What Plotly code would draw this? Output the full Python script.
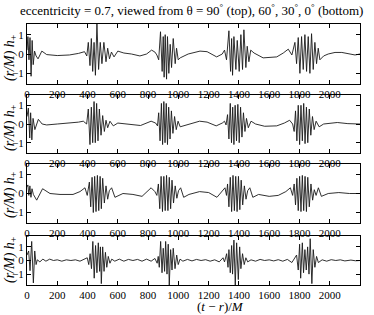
import plotly.graph_objects as go

# ---------------- data ----------------
title_text = ("eccentricity = 0.7, viewed from θ = 90<sup>°</sup> (top), "
              "60<sup>°</sup>, 30<sup>°</sup>, 0<sup>°</sup> (bottom)")
x_label = "(<i>t</i> − <i>r</i>)/<i>M</i>"
y_label = "<i>(r/M) h</i><sub>+</sub>"
x_tick_vals = [0, 200, 400, 600, 800, 1000, 1200, 1400, 1600, 1800, 2000]
y_tick_vals = [-1, 0, 1]
y_tick_text = ["−1", "0", "1"]

# theta = 90 deg (top)
t_90 = [0, 6, 13, 20, 27, 34, 41, 50, 60, 73, 98, 130, 200, 280, 340, 380,
        395, 405, 416, 425, 434, 443, 452, 462, 473, 484, 495, 508, 522, 533, 545,
        558, 575, 600, 640, 690, 746, 790, 823, 845, 858,
        870, 882, 893, 900, 906, 913, 922, 928, 937, 946, 955, 966, 979, 988, 999,
        1012, 1065, 1143, 1190, 1253, 1290, 1305, 1318,
        1334, 1345, 1352, 1358, 1367, 1380, 1389, 1402, 1413, 1424, 1433, 1446, 1455, 1466,
        1478, 1500, 1560, 1650, 1693, 1726, 1750,
        1770, 1781, 1792, 1803, 1814, 1825, 1836, 1847, 1858, 1869, 1880, 1891, 1902, 1913, 1924, 1935,
        1960, 1990, 2035, 2080, 2123, 2167, 2200]
h_90 = [0.2, 0.9, -0.3, 0.85, -1.15, 0.7, -0.55, 0.15, -0.1, -0.25, 0.15, -0.03, -0.08, -0.05, 0.03, 0.12,
        -0.1, 0.6, -0.6, 0.8, -0.9, 0.6, -1.1, 1.55, -0.8, 0.6, -0.5, 0.6, -0.4, 0.3, -0.25,
        0.1, -0.15, 0.15, 0.05, 0.0, -0.1, 0.0, 0.2, 0.1, -0.05,
        -0.3, 1.15, -0.9, 0.9, -1.2, 1.0, -1.3, 0.9, -1.0, 0.5, -0.7, 0.8, -0.5, 0.3, -0.3,
        -0.2, 0.0, 0.15, 0.12, -0.15, 0.0, 0.2, -0.3,
        1.2, -0.9, 0.8, -1.1, 0.9, -0.8, 0.7, -0.9, 1.0, -0.8, 1.25, -0.7, 0.4, -0.4,
        0.2, 0.05, -0.2, -0.15, 0.05, 0.25, -0.05,
        0.6, -0.5, 0.85, -1.0, 0.9, -0.8, 1.0, -0.9, 0.9, -1.0, 1.05, -0.8, 0.6, -0.5, 0.3, -0.3,
        -0.1, 0.0, 0.08, 0.08, 0.0, -0.05, 0.0]

# theta = 60 deg
t_60 = [0, 9, 18, 24, 32, 40, 52, 75, 100, 130, 200, 280, 340, 372, 390,
        394, 405, 416, 425, 434, 443, 451, 460, 469, 478, 489, 500, 511, 522, 533,
        548, 570, 600, 680, 750, 820, 850, 862,
        870, 879, 888, 896, 904, 912, 920, 928, 936, 945, 954, 964, 975, 986, 998,
        1012, 1050, 1140, 1190, 1250, 1290, 1305, 1315,
        1325, 1334, 1343, 1351, 1359, 1367, 1375, 1384, 1393, 1402, 1411, 1420, 1430, 1440, 1450, 1462,
        1480, 1510, 1570, 1650, 1700, 1735, 1755,
        1765, 1774, 1783, 1792, 1801, 1810, 1819, 1828, 1837, 1846, 1855, 1865, 1875, 1886, 1897, 1910,
        1930, 1960, 2050, 2120, 2200]
h_60 = [0.4, 0.85, -0.75, 0.6, -0.85, 0.3, -0.3, 0.25, 0.0, -0.05, 0.0, 0.05, 0.1, 0.15, 0.05,
        0.0, 0.8, -1.1, 0.9, -1.0, 1.2, -1.0, 1.1, -0.9, 0.8, -0.6, 0.45, -0.4, 0.2, -0.2,
        0.15, -0.1, 0.05, 0.0, -0.08, 0.15, 0.05, -0.1,
        0.6, -0.9, 1.1, -1.1, 1.2, -1.0, 1.1, -1.1, 0.9, -0.8, 0.7, -0.5, 0.4, -0.3, 0.15,
        -0.15, -0.05, 0.15, 0.1, -0.1, 0.05, 0.15, -0.05,
        0.5, -0.8, 1.1, -1.0, 0.9, -1.1, 1.0, -0.9, 1.05, -1.0, 0.9, -0.7, 0.6, -0.4, 0.3, -0.2,
        0.15, 0.0, -0.12, -0.1, 0.05, 0.2, 0.0,
        -0.4, 0.7, -0.9, 1.0, -1.1, 1.0, -0.9, 1.1, -1.05, 0.9, -1.0, 0.8, -0.6, 0.4, -0.3, 0.15,
        -0.15, 0.0, 0.08, 0.02, 0.0]

# theta = 30 deg
t_30 = [0, 6, 12, 19, 26, 33, 42, 64, 103, 152, 218, 304, 350, 383, 398,
        412, 421, 430, 438, 447, 456, 465, 474, 483, 491, 500, 511, 522, 533, 544,
        559, 581, 634, 700, 760, 820, 845, 858,
        868, 877, 886, 895, 904, 913, 922, 931, 940, 949, 958, 968, 979, 990, 1001,
        1015, 1035, 1070, 1140, 1200, 1255, 1290, 1308, 1318,
        1325, 1334, 1343, 1352, 1361, 1370, 1379, 1388, 1397, 1406, 1415, 1425, 1436, 1447, 1458,
        1472, 1492, 1530, 1600, 1660, 1710, 1740, 1755,
        1765, 1774, 1783, 1792, 1801, 1810, 1819, 1828, 1837, 1846, 1855, 1865, 1876, 1887, 1898, 1910,
        1925, 1945, 1990, 2060, 2130, 2200]
h_30 = [0.35, 0.45, -0.1, 0.4, -0.2, 0.25, -0.05, -0.35, 0.25, 0.0, -0.05, -0.05, 0.1, 0.3, -0.1,
        0.6, -0.7, 0.85, -1.0, 0.9, -0.95, 0.95, -0.9, 0.9, -0.8, 0.8, -0.5, 0.4, -0.3, 0.15,
        0.3, -0.2, 0.0, -0.05, -0.15, 0.3, 0.1, -0.1,
        0.5, -0.8, 0.9, -0.95, 0.9, -0.9, 0.95, -0.9, 0.85, -0.8, 0.7, -0.5, 0.4, -0.25, 0.15,
        0.3, -0.2, -0.05, 0.1, 0.05, -0.2, 0.1, 0.3, -0.1,
        0.5, -0.7, 0.85, -0.95, 0.95, -0.9, 0.9, -0.95, 0.9, -0.85, 0.7, -0.6, 0.4, -0.3, 0.15,
        0.3, -0.2, -0.05, -0.15, -0.1, 0.1, 0.3, -0.1,
        0.5, -0.6, 0.8, -0.9, 0.9, -0.95, 0.95, -0.9, 0.9, -0.95, 0.85, -0.7, 0.5, -0.35, 0.2, -0.1,
        0.3, -0.15, 0.0, 0.05, 0.0, 0.0]

# theta = 0 deg (bottom)
t_0 = [0, 11, 20, 31, 42, 51, 60, 68, 85, 105, 125, 150, 175, 200, 230, 260, 290, 320, 350, 375,
       398, 408, 417, 426, 435, 444, 453, 462, 471, 480, 485, 491, 500, 509, 518, 527, 537, 548, 560,
       580, 610, 640, 670, 700, 730, 760, 790, 820, 845, 860,
       867, 874, 883, 892, 900, 909, 916, 925, 933, 940, 949, 958, 966, 978, 989, 999, 1011,
       1030, 1060, 1090, 1120, 1150, 1180, 1210, 1240, 1270, 1295, 1305,
       1319, 1328, 1334, 1343, 1352, 1358, 1367, 1376, 1385, 1396, 1405, 1413, 1424, 1435, 1446, 1458,
       1480, 1510, 1540, 1570, 1600, 1630, 1660, 1690, 1720, 1750, 1765,
       1781, 1792, 1801, 1808, 1819, 1827, 1836, 1845, 1854, 1863, 1871, 1882, 1891, 1902, 1913,
       1925, 1950, 1980, 2010, 2040, 2070, 2100, 2140, 2170, 2200]
h_0 = [0.4, 0.7, -0.75, 1.4, -1.65, 0.7, -0.3, 0.05, -0.1, 0.1, -0.05, 0.1, 0.0, 0.05, -0.05, 0.05, 0.0, 0.05, -0.05, 0.1,
       0.2, -0.3, 0.5, -0.6, 1.4, -1.3, 1.1, -0.9, 1.3, -0.8, 1.0, -1.7, 1.0, -0.8, 0.6, -0.5, 0.3, -0.2, 0.1,
       -0.05, 0.1, -0.05, 0.08, 0.0, 0.08, -0.05, 0.1, -0.05, 0.15, -0.2,
       0.3, -0.5, 1.4, -0.9, 0.9, -0.8, 1.4, -1.0, 1.2, -1.8, 0.8, -0.7, 0.9, -0.6, 0.4, -0.3, 0.1,
       -0.05, 0.08, -0.03, 0.08, 0.0, 0.06, -0.05, 0.05, -0.1, 0.2, -0.1,
       0.5, -0.5, 0.8, -0.9, 1.1, -1.0, 1.5, -1.8, 1.3, -1.4, 1.0, -0.6, 0.5, -0.3, 0.2, -0.1,
       0.05, -0.05, 0.08, 0.0, 0.05, -0.03, 0.06, -0.05, 0.08, -0.15, 0.1,
       0.4, -0.7, 1.2, -1.3, 1.3, -0.9, 0.8, -0.7, 1.0, -1.0, 1.6, -1.7, 0.8, -0.5, 0.3,
       -0.15, 0.05, -0.05, 0.06, 0.0, 0.05, -0.03, 0.03, -0.02, 0.0]

# ---------------- figure ----------------
W, H = 374, 315
ML, MR, MT, MB = 27, 14, 24, 30
PH = H - MT - MB  # plot area height in px


def py(p):
    """pixel row -> paper y"""
    return (H - MB - p) / PH


def px(p):
    """pixel column -> paper x"""
    return (p - ML) / (W - ML - MR)


bands = [(24, 84), (95, 153), (164, 223), (236, 285)]
yranges = [[-1.55, 1.55], [-1.55, 1.55], [-1.55, 1.55], [-1.8, 1.8]]
label_rows = [58, 128, 195, 260]
series = [(t_90, h_90), (t_60, h_60), (t_30, h_30), (t_0, h_0)]

FONT = "Liberation Serif"
fig = go.Figure()
layout = dict(
    width=W, height=H,
    margin=dict(l=ML, r=MR, t=MT, b=MB, pad=0),
    paper_bgcolor="white", plot_bgcolor="white",
    showlegend=False,
    font=dict(family=FONT, color="black", size=11),
)
annotations = []
for i, ((tt, hh), (a, b), yr, lr) in enumerate(zip(series, bands, yranges, label_rows), start=1):
    xa = "x" if i == 1 else f"x{i}"
    ya = "y" if i == 1 else f"y{i}"
    fig.add_trace(go.Scatter(x=tt, y=hh, mode="lines", xaxis=xa, yaxis=ya,
                             line=dict(color="#1a1a1a", width=0.9),
                             hoverinfo="skip"))
    common = dict(showline=True, linecolor="black", linewidth=1, mirror="allticks",
                  ticks="inside", ticklen=4, tickwidth=1, tickcolor="black",
                  showgrid=False, zeroline=False,
                  tickfont=dict(family=FONT, size=11, color="black"))
    layout["xaxis" if i == 1 else f"xaxis{i}"] = dict(
        domain=[0, 1], range=[0, 2200], anchor=ya, tickvals=x_tick_vals, **common)
    layout["yaxis" if i == 1 else f"yaxis{i}"] = dict(
        domain=[py(b), py(a)], range=yr, anchor=xa,
        tickvals=y_tick_vals, ticktext=y_tick_text, **common)
    annotations.append(dict(text=y_label, xref="paper", yref="paper",
                            x=px(10), y=py(lr), xanchor="center", yanchor="middle",
                            textangle=-90, showarrow=False,
                            font=dict(family=FONT, size=14, color="black")))

annotations.append(dict(text=title_text, xref="paper", yref="paper",
                        x=px(191), y=py(10), xanchor="center", yanchor="middle",
                        showarrow=False, font=dict(family=FONT, size=13, color="black")))
annotations.append(dict(text=x_label, xref="paper", yref="paper",
                        x=px(220), y=py(306), xanchor="center", yanchor="middle",
                        showarrow=False, font=dict(family=FONT, size=13, color="black")))
layout["annotations"] = annotations
fig.update_layout(**layout)
fig.write_html("out.html",
               config={"displayModeBar": False, "staticPlot": True},
               post_script="document.body.style.margin='0px';document.body.style.padding='0px';")
